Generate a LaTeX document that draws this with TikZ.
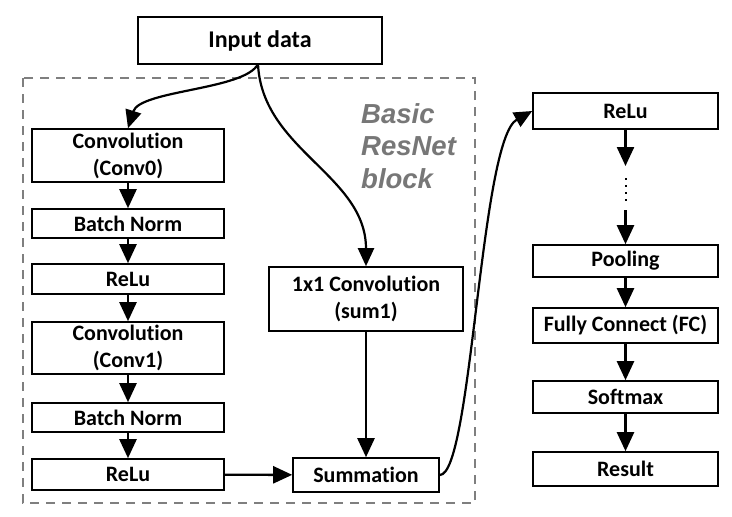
\documentclass[tikz,border=0pt]{standalone}
\usepackage{fontspec}
\setmainfont{Carlito}[Ligatures=NoCommon]
\newfontfamily\labfont{Liberation Sans}
\usetikzlibrary{arrows.meta}
\definecolor{dashgray}{HTML}{7F7F7F}
\definecolor{labgray}{HTML}{777777}
\tikzset{
  blk/.style={draw=black, line width=1.6pt, fill=white, align=center, inner sep=0pt,
    font=\fontsize{22}{27}\selectfont\bfseries},
  arr/.style={line width=2.4pt, -{Triangle[length=19pt,width=17pt]}},
  carr/.style={line width=2.2pt, -{Triangle[length=18pt,width=16pt]}},
}
\begin{document}
\begin{tikzpicture}[x=1pt,y=-1pt]
\useasboundingbox (0,0) rectangle (732,517);
% dashed block
\draw[dashgray, line width=2pt, dash pattern=on 9pt off 7pt] (23,78) rectangle (475,503);
\node[text=labgray, font=\labfont\fontsize{27.5}{32.5}\selectfont\bfseries\itshape, align=left, anchor=north west, inner sep=0pt] (lab) at (361,103) {Basic\\ResNet\\block};
% nodes
\node[blk, minimum width=244pt, minimum height=47pt, font=\fontsize{24}{28}\selectfont\bfseries] (in) at (260,40.5) {Input data};
\node[blk, minimum width=192pt, minimum height=53pt] (c0) at (128,155.5) {Convolution\\(Conv0)};
\node[blk, minimum width=192pt, minimum height=29pt] (b1) at (128,223.5) {Batch Norm};
\node[blk, minimum width=192pt, minimum height=30pt] (r1) at (128,279) {ReLu};
\node[blk, minimum width=192pt, minimum height=52pt] (c1) at (128,348) {Convolution\\(Conv1)};
\node[blk, minimum width=192pt, minimum height=29pt] (b2) at (128,417.5) {Batch Norm};
\node[blk, minimum width=192pt, minimum height=31pt] (r2) at (128,474.5) {ReLu};
\node[blk, minimum width=194pt, minimum height=64pt] (s1) at (366,299) {1x1 Convolution\\(sum1)};
\node[blk, minimum width=146pt, minimum height=34pt] (sum) at (366,475) {Summation};
\node[blk, minimum width=185pt, minimum height=36pt] (rr) at (625.5,111) {ReLu};
\node[blk, minimum width=185pt, minimum height=32pt] (pool) at (625.5,261) {Pooling};
\node[blk, minimum width=185pt, minimum height=35pt] (fc) at (625.5,325.5) {Fully Connect (FC)};
\node[blk, minimum width=185pt, minimum height=32pt] (sm) at (625.5,397) {Softmax};
\node[blk, minimum width=185pt, minimum height=34pt] (res) at (625.5,469) {Result};
% connectors
\coordinate (inb) at (258,64);
\draw[carr] (inb) .. controls (245,90) and (140,90) .. (c0.north);
\draw[carr] (inb) .. controls (262,150) and (366,175) .. (s1.north);
\draw[arr] (c0) -- (b1);
\draw[arr] (b1) -- (r1);
\draw[arr] (r1) -- (c1);
\draw[arr] (c1) -- (b2);
\draw[arr] (b2) -- (r2);
\draw[arr] (r2) -- (sum);
\draw[arr] (s1) -- (sum);
\draw[carr] (sum.east) .. controls (472,475) and (480,140) .. (rr.west);
\coordinate (d1) at (625.5,166);
\coordinate (d2) at (625.5,178);
\coordinate (d3) at (625.5,206);
\coordinate (d4) at (625.5,210);
\draw[arr] (rr) -- (d1);
\draw[line width=2pt, dash pattern=on 1.6pt off 5.5pt] (d2) -- (d3);
\draw[arr] (d4) -- (pool);
\draw[arr] (pool) -- (fc);
\draw[arr] (fc) -- (sm);
\draw[arr] (sm) -- (res);
\end{tikzpicture}
\end{document}
